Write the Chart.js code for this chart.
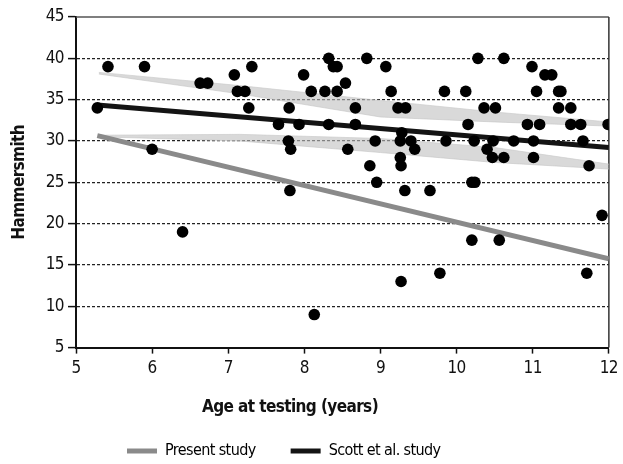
<!DOCTYPE html>
<html>
<head>
<meta charset="utf-8">
<script src="https://cdn.jsdelivr.net/npm/chart.js@4/dist/chart.umd.min.js"></script>
<style>
  html, body { margin: 0; padding: 0; background: #fff; }
  #wrap { width: 623px; height: 464px; }
</style>
</head>
<body>
<div id="wrap"><canvas id="myChart" width="623" height="464"></canvas></div>
<script>
// Individual subjects: age at testing (years) and Hammersmith score
const ageYears = [
  5.28, 5.42, 5.90, 6.00, 6.40, 6.63, 6.73, 7.08, 7.12, 7.22, 7.27, 7.31,
  7.66, 7.80, 7.79, 7.82, 7.81, 7.93, 7.99, 8.09, 8.13, 8.27, 8.32, 8.32,
  8.38, 8.43, 8.43, 8.54, 8.57, 8.67, 8.67, 8.82, 8.86, 8.93, 8.95, 9.07,
  9.14, 9.23, 9.33, 9.28, 9.26, 9.26, 9.27, 9.32, 9.27, 9.40, 9.45, 9.65,
  9.78, 9.84, 9.86, 10.12, 10.15, 10.20, 10.24, 10.23, 10.28, 10.20, 10.36, 10.51,
  10.40, 10.48, 10.47, 10.56, 10.62, 10.62, 10.75, 10.93, 10.99, 11.05, 11.01, 11.01,
  11.09, 11.16, 11.25, 11.34, 11.37, 11.34, 11.50, 11.50, 11.63, 11.66, 11.74, 11.71,
  11.91, 11.99
];
const hammersmith = [
  34, 39, 39, 29, 19, 37, 37, 38, 36, 36, 34, 39,
  32, 34, 30, 29, 24, 32, 38, 36, 9, 36, 40, 32,
  39, 39, 36, 37, 29, 34, 32, 40, 27, 30, 25, 39,
  36, 34, 34, 31, 30, 28, 27, 24, 13, 30, 29, 24,
  14, 36, 30, 36, 32, 25, 25, 30, 40, 18, 34, 34,
  29, 30, 28, 18, 40, 28, 30, 32, 39, 36, 30, 28,
  32, 38, 38, 36, 36, 34, 34, 32, 32, 30, 27, 14,
  21, 32
];

// Regression lines (end points)
const presentX = [5.28, 12];
const presentY = [30.65, 15.75];
const scottX = [5.28, 12];
const scottY = [34.35, 29.2];

// Light grey bands around the Scott et al. data
const bandX = [5.3, 7.15, 9.0, 10.5, 12];
const upperHi = [38.3, 36.7, 34.9, 33.5, 32.3];
const upperLo = [38.1, 35.7, 32.9, 32.3, 31.8];
const lowerHi = [30.7, 30.8, 30.3, 29.2, 27.2];
const lowerLo = [30.5, 30.0, 28.6, 27.4, 26.6];

const xTicks = [5, 6, 7, 8, 9, 10, 11, 12];
const yTicks = [5, 10, 15, 20, 25, 30, 35, 40, 45];

const legendNames = ['Present study', 'Scott et al. study'];
const xTitle = 'Age at testing (years)';
const yTitle = 'Hammersmith';

const FONT = '"Liberation Sans Narrow", "DejaVu Sans Condensed", sans-serif';
const toXY = (xs, ys) => xs.map((x, i) => ({ x: x, y: ys[i] }));

Chart.defaults.font.family = FONT;
Chart.defaults.font.size = 16;
Chart.defaults.color = '#111';

// tighter text, closer to the narrow face of the original
const narrowText = {
  id: 'narrowText',
  beforeLayout(chart) { chart.ctx.letterSpacing = '-0.6px'; },
  beforeDraw(chart) { chart.ctx.letterSpacing = '-0.6px'; }
};

// top and right frame of the plot, plus title / legend placement
const framePlugin = {
  id: 'frame',
  beforeDatasetsDraw(chart) {
    const { ctx, chartArea: a } = chart;
    ctx.save();
    ctx.lineWidth = 1.5;
    ctx.strokeStyle = '#555';
    ctx.beginPath();
    ctx.moveTo(a.left, a.top);
    ctx.lineTo(a.right, a.top);
    ctx.stroke();
    ctx.strokeStyle = '#333';
    ctx.beginPath();
    ctx.moveTo(a.right, a.top);
    ctx.lineTo(a.right, a.bottom);
    ctx.stroke();
    ctx.restore();
  },
  afterLayout(chart) {
    if (chart.titleBlock) {
      chart.titleBlock.left -= 19;
      chart.titleBlock.right -= 19;
    }
    if (chart.legend) {
      const pad = chart.legend.options.labels.padding;
      chart.legend.left = 127 - pad;
      chart.legend.top = 443 - pad;
    }
  }
};

const bandStyle = {
  showLine: true, pointRadius: 0, borderWidth: 1,
  borderColor: 'rgba(205,205,205,0.7)', backgroundColor: 'rgba(192,192,192,0.6)',
  order: 3
};

new Chart(document.getElementById('myChart'), {
  type: 'scatter',
  data: {
    datasets: [
      Object.assign({ label: 'band1', data: toXY(bandX, upperHi), fill: '+1' }, bandStyle),
      Object.assign({ label: 'band2', data: toXY(bandX, upperLo), fill: false }, bandStyle),
      Object.assign({ label: 'band3', data: toXY(bandX, lowerHi), fill: '+1' }, bandStyle),
      Object.assign({ label: 'band4', data: toXY(bandX, lowerLo), fill: false }, bandStyle),
      {
        label: legendNames[0], data: toXY(presentX, presentY), showLine: true,
        pointRadius: 0, borderColor: '#8a8a8a', backgroundColor: '#8a8a8a',
        borderWidth: 5, order: 2
      },
      {
        label: legendNames[1], data: toXY(scottX, scottY), showLine: true,
        pointRadius: 0, borderColor: '#141414', backgroundColor: '#141414',
        borderWidth: 5, order: 1
      },
      {
        label: 'Subjects', data: toXY(ageYears, hammersmith),
        pointRadius: 5.8, pointBackgroundColor: '#000', pointBorderWidth: 0,
        order: 0
      }
    ]
  },
  options: {
    responsive: false,
    animation: false,
    layout: { padding: { top: 17, right: 5, bottom: 0, left: 0 } },
    scales: {
      x: {
        type: 'linear', min: 5, max: 12,
        afterBuildTicks: s => { s.ticks = xTicks.map(v => ({ value: v })); },
        afterFit: s => { s.height = 40; },
        ticks: { padding: 5, color: '#111', font: { size: 17 } },
        grid: { drawOnChartArea: false, drawTicks: true, tickLength: 6, tickColor: '#111', tickWidth: 1.5 },
        border: { display: true, color: '#111', width: 2 }
      },
      y: {
        type: 'linear', min: 5, max: 45,
        afterBuildTicks: s => { s.ticks = yTicks.map(v => ({ value: v })); },
        afterFit: s => { s.width = 76; },
        ticks: { padding: 4, color: '#111', font: { size: 17 } },
        title: {
          display: true, text: yTitle, color: '#111',
          font: { size: 17, weight: 'bold' }, padding: { top: 9, bottom: 0 }
        },
        grid: {
          color: c => (c.tick && c.tick.value > 5 && c.tick.value < 45) ? '#222' : 'rgba(0,0,0,0)',
          lineWidth: 1.2, tickLength: 8, tickColor: '#111', tickWidth: 1.5, tickBorderDash: []
        },
        border: { display: true, color: '#111', width: 2, dash: [3, 2] }
      }
    },
    plugins: {
      tooltip: { enabled: false },
      title: {
        display: true, text: xTitle, position: 'bottom', weight: 500,
        color: '#111', font: { size: 17, weight: 'bold' },
        padding: { top: 10, bottom: 6 }
      },
      legend: {
        display: true, position: 'bottom', align: 'start', maxHeight: 40,
        labels: {
          boxWidth: 30, boxHeight: 5, padding: 35, color: '#111',
          font: { size: 16 },
          generateLabels: () => [
            { text: legendNames[0], fillStyle: '#8a8a8a', strokeStyle: '#8a8a8a', lineWidth: 0, hidden: false, datasetIndex: 4 },
            { text: legendNames[1], fillStyle: '#141414', strokeStyle: '#141414', lineWidth: 0, hidden: false, datasetIndex: 5 }
          ]
        }
      }
    }
  },
  plugins: [narrowText, framePlugin]
});
</script>
</body>
</html>
